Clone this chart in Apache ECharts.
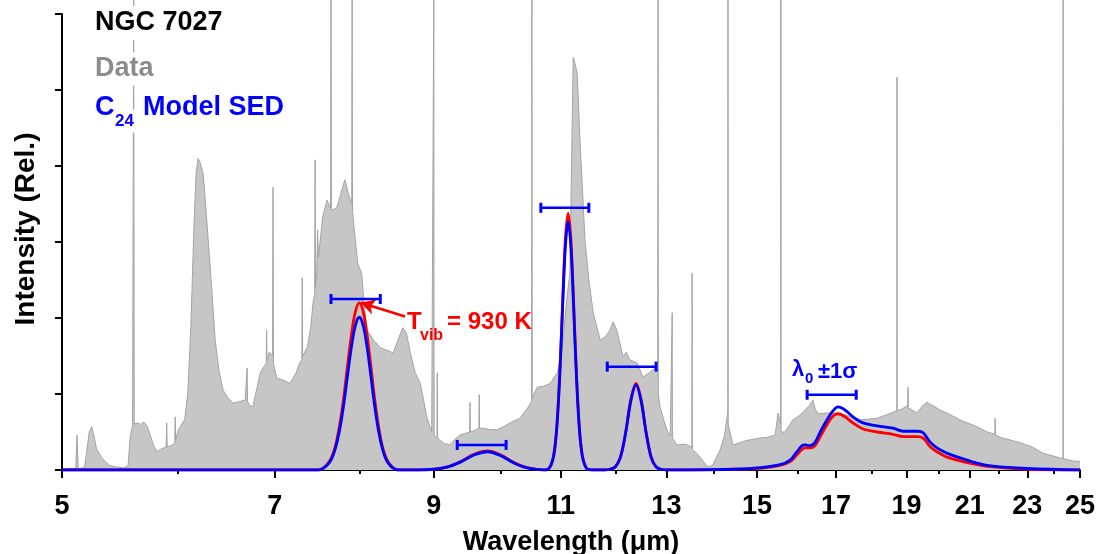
<!DOCTYPE html>
<html><head><meta charset="utf-8">
<script src="https://cdn.jsdelivr.net/npm/echarts@6/dist/echarts.min.js"></script>
<style>html,body{margin:0;padding:0;background:#fff}#c{width:1099px;height:554px}</style>
</head><body><div id="c"></div>
<script>
// Observed spectrum (wavelength um, relative intensity)
const spectrum = [
[5.00,0.00],[5.06,0.02],[5.11,0.02],[5.12,0.46],[5.13,0.02],[5.18,0.03],[5.20,0.25],[5.22,0.50],[5.24,0.57],[5.26,0.45],[5.28,0.28],[5.31,0.20],[5.33,0.15],[5.36,0.10],[5.39,0.06],[5.45,0.04],[5.51,0.03],[5.55,0.05],[5.57,0.45],[5.59,0.58],[5.595,0.58],[5.60,6.25],[5.605,0.60],[5.63,0.62],[5.66,0.60],[5.69,0.63],[5.72,0.58],[5.75,0.45],[5.78,0.32],[5.81,0.24],[5.84,0.27],[5.87,0.29],[5.895,0.30],[5.90,0.62],[5.905,0.30],[5.94,0.32],[5.975,0.35],[5.98,0.70],[5.985,0.40],[6.01,0.53],[6.04,0.60],[6.07,0.66],[6.10,1.01],[6.13,1.90],[6.16,3.20],[6.18,3.90],[6.20,4.10],[6.22,4.05],[6.25,3.90],[6.28,3.40],[6.30,3.03],[6.34,2.30],[6.37,1.71],[6.41,1.30],[6.45,1.05],[6.50,0.95],[6.55,0.88],[6.62,0.90],[6.68,0.92],[6.695,0.90],[6.70,1.34],[6.705,0.90],[6.73,0.85],[6.76,0.83],[6.80,1.05],[6.84,1.28],[6.88,1.36],[6.905,1.40],[6.91,1.84],[6.915,1.45],[6.94,1.55],[6.975,1.50],[6.98,3.72],[6.985,1.40],[7.02,1.21],[7.10,1.18],[7.17,1.14],[7.24,1.28],[7.28,1.41],[7.305,1.45],[7.31,2.53],[7.315,1.50],[7.37,1.62],[7.41,1.90],[7.44,2.24],[7.455,2.30],[7.46,4.08],[7.465,2.40],[7.48,2.60],[7.49,3.16],[7.50,2.80],[7.55,3.33],[7.60,3.55],[7.645,3.45],[7.65,6.25],[7.655,3.45],[7.67,3.42],[7.72,3.45],[7.76,3.60],[7.82,3.82],[7.86,3.65],[7.905,3.50],[7.91,6.25],[7.915,3.40],[7.92,3.38],[7.98,2.72],[8.03,2.59],[8.06,2.20],[8.10,1.84],[8.18,1.71],[8.27,1.61],[8.35,1.58],[8.44,1.54],[8.50,1.70],[8.57,1.87],[8.62,1.80],[8.67,1.55],[8.74,1.28],[8.81,1.14],[8.86,0.90],[8.90,0.70],[8.97,0.50],[8.995,0.48],[9.00,6.25],[9.005,0.45],[9.045,0.42],[9.05,1.28],[9.055,0.42],[9.09,0.39],[9.15,0.35],[9.23,0.33],[9.30,0.40],[9.38,0.46],[9.45,0.48],[9.525,0.50],[9.53,0.89],[9.535,0.50],[9.60,0.52],[9.665,0.55],[9.67,0.99],[9.675,0.55],[9.73,0.55],[9.85,0.53],[9.95,0.53],[10.05,0.57],[10.15,0.62],[10.31,0.68],[10.45,0.83],[10.505,0.90],[10.51,6.25],[10.515,0.95],[10.60,1.09],[10.70,1.10],[10.82,1.14],[10.94,1.28],[11.00,1.45],[11.04,1.71],[11.10,2.20],[11.16,2.59],[11.19,4.00],[11.22,5.43],[11.25,5.35],[11.29,5.22],[11.34,4.34],[11.43,3.03],[11.50,2.50],[11.58,2.07],[11.71,1.71],[11.80,1.75],[11.89,1.84],[11.95,1.95],[12.02,1.84],[12.14,1.49],[12.20,1.55],[12.27,1.45],[12.41,1.41],[12.53,1.22],[12.65,1.28],[12.73,1.32],[12.80,1.35],[12.825,1.30],[12.83,6.25],[12.835,1.00],[12.87,0.83],[12.95,0.65],[13.01,0.53],[13.08,0.45],[13.115,0.45],[13.12,2.07],[13.125,0.42],[13.22,0.33],[13.40,0.34],[13.535,0.30],[13.54,2.59],[13.545,0.27],[13.64,0.22],[13.80,0.10],[13.88,0.04],[13.98,0.06],[14.15,0.26],[14.25,0.45],[14.31,0.70],[14.325,0.75],[14.33,6.25],[14.335,0.60],[14.44,0.33],[14.60,0.36],[14.77,0.39],[15.07,0.42],[15.24,0.43],[15.44,0.46],[15.51,0.75],[15.575,0.60],[15.58,6.25],[15.585,0.50],[15.68,0.50],[15.88,0.66],[16.05,0.72],[16.19,0.79],[16.30,0.85],[16.39,0.92],[16.45,0.80],[16.52,0.74],[16.76,0.75],[17.11,0.75],[17.40,0.70],[17.66,0.66],[18.14,0.68],[18.60,0.76],[18.715,0.78],[18.72,5.17],[18.725,0.78],[18.85,0.80],[19.04,0.85],[19.05,1.09],[19.06,0.82],[19.32,0.75],[19.50,0.85],[19.63,0.89],[19.80,0.85],[20.04,0.79],[20.40,0.72],[20.68,0.66],[21.24,0.57],[21.60,0.50],[21.85,0.47],[21.86,0.68],[21.87,0.46],[22.03,0.43],[22.74,0.36],[23.20,0.30],[23.58,0.22],[24.22,0.16],[24.335,0.15],[24.34,6.25],[24.345,0.15],[24.70,0.12],[25.00,0.11]
];

// Model SED (wavelength grid + two curves)
const modelWl = [5.00,7.45,7.50,7.55,7.60,7.65,7.70,7.75,7.80,7.85,7.90,7.95,8.00,8.05,8.10,8.15,8.20,8.25,8.30,8.35,8.40,8.45,8.50,8.80,9.00,9.20,9.40,9.60,9.80,10.00,10.20,10.40,10.60,10.75,10.78,10.83,10.88,10.93,10.98,11.03,11.08,11.13,11.18,11.23,11.28,11.33,11.38,11.43,11.48,11.60,11.80,11.89,11.99,12.09,12.19,12.29,12.39,12.49,12.59,12.69,12.79,12.89,13.00,13.50,14.50,15.07,15.56,15.81,15.98,16.11,16.19,16.31,16.44,16.57,16.76,16.92,17.05,17.24,17.46,17.74,18.14,18.60,18.90,19.20,19.35,19.51,19.72,19.94,20.26,20.68,21.24,21.79,22.99,25.00];
const modelBlue = [0,0,0.00,0.02,0.06,0.13,0.27,0.50,0.82,1.22,1.61,1.90,2.01,1.90,1.61,1.22,0.82,0.50,0.27,0.13,0.06,0.02,0.00,0,0.01,0.04,0.11,0.20,0.24,0.19,0.10,0.035,0.008,0,0.01,0.06,0.19,0.53,1.18,2.08,2.92,3.27,2.92,2.08,1.18,0.53,0.19,0.06,0.01,0,0,0.01,0.04,0.17,0.49,0.91,1.12,0.91,0.49,0.17,0.04,0.01,0,0,0.01,0.03,0.07,0.13,0.24,0.32,0.33,0.32,0.36,0.49,0.66,0.78,0.83,0.79,0.70,0.62,0.58,0.55,0.51,0.51,0.51,0.49,0.37,0.29,0.22,0.16,0.09,0.05,0.02,0];
const modelRed = [0,0,0.00,0.02,0.07,0.15,0.30,0.56,0.91,1.35,1.77,2.08,2.20,2.08,1.77,1.35,0.91,0.56,0.30,0.15,0.07,0.02,0.00,0,0.01,0.04,0.115,0.21,0.25,0.20,0.105,0.037,0.009,0,0.01,0.06,0.20,0.55,1.22,2.15,3.02,3.38,3.02,2.15,1.22,0.55,0.20,0.06,0.01,0,0,0.01,0.04,0.17,0.50,0.93,1.14,0.93,0.50,0.17,0.04,0.01,0,0,0.01,0.02,0.06,0.11,0.20,0.27,0.29,0.29,0.32,0.43,0.60,0.71,0.74,0.70,0.62,0.54,0.50,0.47,0.44,0.44,0.44,0.42,0.31,0.24,0.17,0.12,0.07,0.04,0.01,0];

// lambda0 +/- 1 sigma bars
const barLo = [7.65, 9.34, 10.66, 11.84, 16.24];
const barHi = [8.27, 10.09, 11.50, 12.79, 17.55];
const barY  = [2.25, 0.33, 3.45, 1.36, 0.99];

// Tvib arrow (from text to the red peak)
const arrowFrom = [8.60, 2.02];
const arrowTo = [8.02, 2.20];

const xMajorTicks = [5,7,9,11,13,15,17,19,21,23,25];
const xMinorTicks = [6,8,10,12,14,16,18,20,22,24];

const FONT = '"Liberation Sans", Arial, Helvetica, sans-serif';
const BLUE = '#0000ff', RED = '#ff0000';

const chart = echarts.init(document.getElementById('c'), null, {renderer: 'canvas'});

const barSeries = barLo.map((lo, i) => ({
  type: 'line', xAxisIndex: 0, yAxisIndex: 0, z: 5,
  data: [[lo, barY[i]], [barHi[i], barY[i]]],
  symbol: 'rect', symbolSize: [3, 10], showSymbol: true,
  itemStyle: {color: BLUE},
  lineStyle: {color: BLUE, width: 2.5},
  silent: true, animation: false
}));

function txt(text, x, y, size, color, bg) {
  const el = {type: 'text', z: 100, style: {
    text: text, x: x, y: y, fill: color,
    font: 'bold ' + size + 'px ' + FONT, verticalAlign: 'middle', align: 'left'
  }};
  if (bg) { el.style.backgroundColor = '#fff'; el.style.padding = bg; el.style.x = x - bg[3]; }
  return el;
}

chart.setOption({
  animation: false,
  backgroundColor: '#fff',
  grid: {left: 62, right: 19, top: 14, bottom: 84, containLabel: false, outerBoundsMode: 'none'},
  xAxis: [{
    type: 'log', logBase: 10, min: 5, max: 25,
    axisLine: {show: true, onZero: false, lineStyle: {color: '#000', width: 2}},
    axisTick: {show: true, customValues: xMajorTicks, length: 8, lineStyle: {color: '#000', width: 2}},
    axisLabel: {show: true, customValues: xMajorTicks, margin: 23, fontFamily: FONT, fontWeight: 'bold', fontSize: 27, color: '#000',
      formatter: v => String(Math.round(v))},
    splitLine: {show: false}, minorTick: {show: false},
    name: 'Wavelength (\u03bcm)', nameLocation: 'middle', nameGap: 59,
    nameTextStyle: {fontFamily: FONT, fontWeight: 'bold', fontSize: 27, color: '#000'}
  }, {
    type: 'log', logBase: 10, min: 5, max: 25, position: 'bottom', offset: 0,
    axisLine: {show: false},
    axisTick: {show: true, customValues: xMinorTicks, length: 4, lineStyle: {color: '#000', width: 2}},
    axisLabel: {show: false},
    splitLine: {show: false}, minorTick: {show: false}
  }],
  yAxis: {
    type: 'value', min: 0, max: 6, interval: 1,
    axisLine: {show: true, lineStyle: {color: '#000', width: 2}},
    axisTick: {show: true, length: 7, lineStyle: {color: '#000', width: 2}},
    axisLabel: {show: false}, splitLine: {show: false},
    name: 'Intensity (Rel.)', nameLocation: 'middle', nameGap: 22,
    nameTextStyle: {fontFamily: FONT, fontWeight: 'bold', fontSize: 28, color: '#000', padding: [0, 0, 0, 26]}
  },
  series: [{
    name: 'Data', type: 'line', xAxisIndex: 0, data: spectrum, clip: false,
    symbol: 'none', smooth: false, z: 1,
    lineStyle: {color: '#a4a4a4', width: 1},
    areaStyle: {color: '#c6c6c6', opacity: 1, origin: 'start'},
    silent: true
  }, {
    name: 'Red', type: 'line', xAxisIndex: 0, z: 3,
    data: modelWl.map((w, i) => [w, modelRed[i]]),
    symbol: 'none', smooth: 0.35,
    lineStyle: {color: RED, width: 2.8},
    markLine: {
      silent: true, symbol: ['none', 'arrow'], symbolSize: [12, 14],
      label: {show: false},
      lineStyle: {color: RED, width: 2.5, type: 'solid'},
      data: [[{coord: arrowFrom}, {coord: arrowTo}]]
    }
  }, {
    name: 'C24 Model SED', type: 'line', xAxisIndex: 0, z: 4,
    data: modelWl.map((w, i) => [w, modelBlue[i]]),
    symbol: 'none', smooth: 0.35,
    lineStyle: {color: BLUE, width: 2.8}
  }].concat(barSeries),
  graphic: [
    txt('NGC 7027', 95, 23, 27, '#000', [3, 3, 4, 3]),
    txt('Data', 95, 69, 27, '#8c8c8c', [3, 3, 3, 3]),
    txt('C', 95, 108, 27, BLUE, [4, 1, 4, 3]),
    txt('24', 115, 121, 17, BLUE, [3, 1, 3, 1]),
    txt('Model SED', 143, 108, 27, BLUE, [4, 3, 4, 3]),
    txt('T', 407, 322, 24, RED),
    txt('vib', 420, 336, 16, RED),
    txt('= 930 K', 447, 322, 24, RED),
    txt('\u03bb', 792, 370, 22, BLUE),
    txt('0', 805, 379, 15, BLUE),
    txt('\u00b11\u03c3', 818, 372, 22, BLUE)
  ]
});
</script>
</body></html>
